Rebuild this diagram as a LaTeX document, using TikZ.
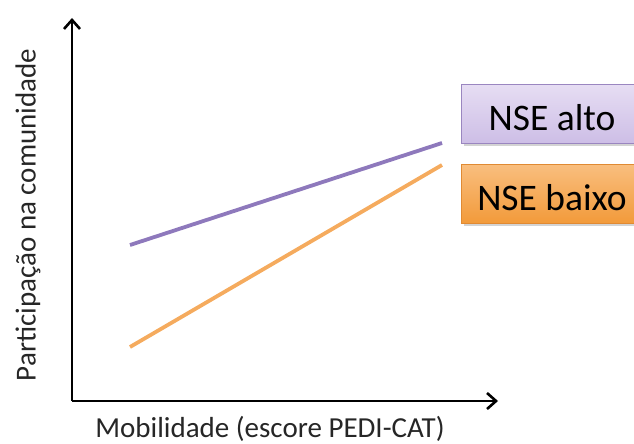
\documentclass[tikz,border=0pt]{standalone}
\usepackage{fontspec}
\setmainfont{Carlito}
\usetikzlibrary{arrows.meta,shadows}
\definecolor{lineP}{HTML}{8E79BC}
\definecolor{lineO}{HTML}{F5AB5E}
\definecolor{boxPtop}{HTML}{E6DDF3}
\definecolor{boxPbot}{HTML}{CDBEE6}
\definecolor{boxPdraw}{HTML}{9A86C0}
\definecolor{boxOtop}{HTML}{F9BE7E}
\definecolor{boxObot}{HTML}{F29A3A}
\definecolor{boxOdraw}{HTML}{E08A33}
\begin{document}
\begin{tikzpicture}[x=1pt,y=-1pt,
  axis/.style={line width=2.6pt,-{Straight Barb[length=9pt,width=16pt,line width=2.6pt]}},
  trend/.style={line width=3.8pt},
  legendbox/.style={minimum width=190pt,minimum height=59pt,anchor=north west,line width=1pt,
    drop shadow={shadow xshift=2pt,shadow yshift=-2pt,opacity=0.35}},
  legendtext/.style={anchor=base,font=\fontsize{37.5}{38}\selectfont,text=black},
  axislabel/.style={font=\fontsize{29}{30}\selectfont,text=black!85}]
\useasboundingbox (0,0) rectangle (634,444);
% axes
\coordinate (o) at (72,401);
\coordinate (ytip) at (72,18);
\coordinate (xtip) at (498,401);
\draw[axis] (o) -- (ytip);
\draw[axis] (o) -- (xtip);
% trend lines
\coordinate (p1) at (130,245);
\coordinate (p2) at (442,143);
\coordinate (q1) at (130,347);
\coordinate (q2) at (442,165);
\draw[trend,lineP] (p1) -- (p2);
\draw[trend,lineO] (q1) -- (q2);
% legend boxes
\node[legendbox,draw=boxPdraw,top color=boxPtop,bottom color=boxPbot] (alto) at (461,84) {};
\node[legendtext] (altotext) at (552,130) {NSE alto};
\node[legendbox,draw=boxOdraw,top color=boxOtop,bottom color=boxObot] (baixo) at (461,164) {};
\node[legendtext] (baixotext) at (552,210) {NSE baixo};
% axis labels
\node[axislabel,rotate=90] (ylab) at (28,215) {Participação na comunidade};
\node[axislabel,anchor=base] (xlab) at (270,437) {Mobilidade (escore PEDI-CAT)};
\end{tikzpicture}
\end{document}
